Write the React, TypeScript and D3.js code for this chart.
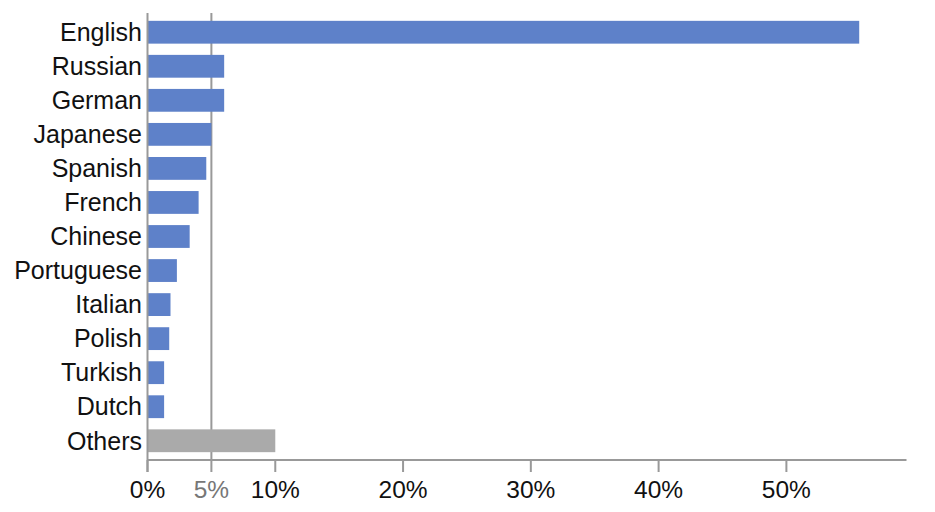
import { useEffect, useRef } from 'react';
import * as d3 from 'd3';

const languages = ['English', 'Russian', 'German', 'Japanese', 'Spanish', 'French', 'Chinese', 'Portuguese', 'Italian', 'Polish', 'Turkish', 'Dutch', 'Others'];
const shares = [55.7, 6.0, 6.0, 5.0, 4.6, 4.0, 3.3, 2.3, 1.8, 1.7, 1.3, 1.3, 10.0];
const tickValues = [0, 10, 20, 30, 40, 50];
const refValue = 5;

const width = 935;
const height = 512;

export default function App() {
  const svgRef = useRef<SVGSVGElement>(null);

  useEffect(() => {
    if (!svgRef.current) return;
    const svg = d3.select(svgRef.current);
    svg.selectAll('*').remove();

    const font = '"Liberation Sans", Arial, Helvetica, sans-serif';
    const axisColor = '#999999';

    const x = d3.scaleLinear().domain([0, 59.4]).range([147.5, 906.5]);
    const y = d3.scaleBand<string>()
      .domain(languages)
      .range([13, 460])
      .paddingInner(0.33)
      .paddingOuter(0.23);

    // 5% reference line
    svg.append('line')
      .attr('x1', x(refValue)).attr('x2', x(refValue))
      .attr('y1', 13).attr('y2', 472)
      .attr('stroke', axisColor)
      .attr('stroke-width', 2);

    // Bars
    svg.append('g')
      .selectAll('rect')
      .data(languages)
      .join('rect')
      .attr('x', x(0))
      .attr('y', (d) => y(d)!)
      .attr('width', (_, i) => x(shares[i]) - x(0))
      .attr('height', y.bandwidth())
      .attr('fill', (d) => (d === 'Others' ? '#aaaaaa' : '#5e81c9'));

    // Category labels
    svg.append('g')
      .selectAll('text')
      .data(languages)
      .join('text')
      .attr('x', 142)
      .attr('y', (d) => y(d)! + y.bandwidth() / 2)
      .attr('dy', '0.35em')
      .attr('text-anchor', 'end')
      .attr('font-family', font)
      .attr('font-size', 25)
      .attr('fill', '#111')
      .text((d) => d);

    // Y axis line
    svg.append('line')
      .attr('x1', x(0)).attr('x2', x(0))
      .attr('y1', 13).attr('y2', 472)
      .attr('stroke', axisColor)
      .attr('stroke-width', 2);

    // X axis
    const xAxis = svg.append('g').attr('transform', 'translate(0,460)');
    xAxis.append('line')
      .attr('x1', x(0)).attr('x2', x(59.4))
      .attr('stroke', axisColor)
      .attr('stroke-width', 2);

    xAxis.selectAll('line.tick')
      .data(tickValues)
      .join('line')
      .attr('class', 'tick')
      .attr('x1', (d) => x(d)).attr('x2', (d) => x(d))
      .attr('y1', 0).attr('y2', 12)
      .attr('stroke', axisColor)
      .attr('stroke-width', 2);

    xAxis.selectAll('text.tick')
      .data(tickValues)
      .join('text')
      .attr('class', 'tick')
      .attr('x', (d) => x(d))
      .attr('y', 38)
      .attr('text-anchor', 'middle')
      .attr('font-family', font)
      .attr('font-size', 24.5)
      .attr('fill', '#111')
      .text((d) => `${d}%`);

    xAxis.append('text')
      .attr('x', x(refValue))
      .attr('y', 38)
      .attr('text-anchor', 'middle')
      .attr('font-family', font)
      .attr('font-size', 24.5)
      .attr('fill', '#777777')
      .text(`${refValue}%`);
  }, []);

  return (
    <svg
      ref={svgRef}
      width={width}
      height={height}
      style={{ position: 'absolute', left: 0, top: 0, background: '#fff' }}
    />
  );
}
